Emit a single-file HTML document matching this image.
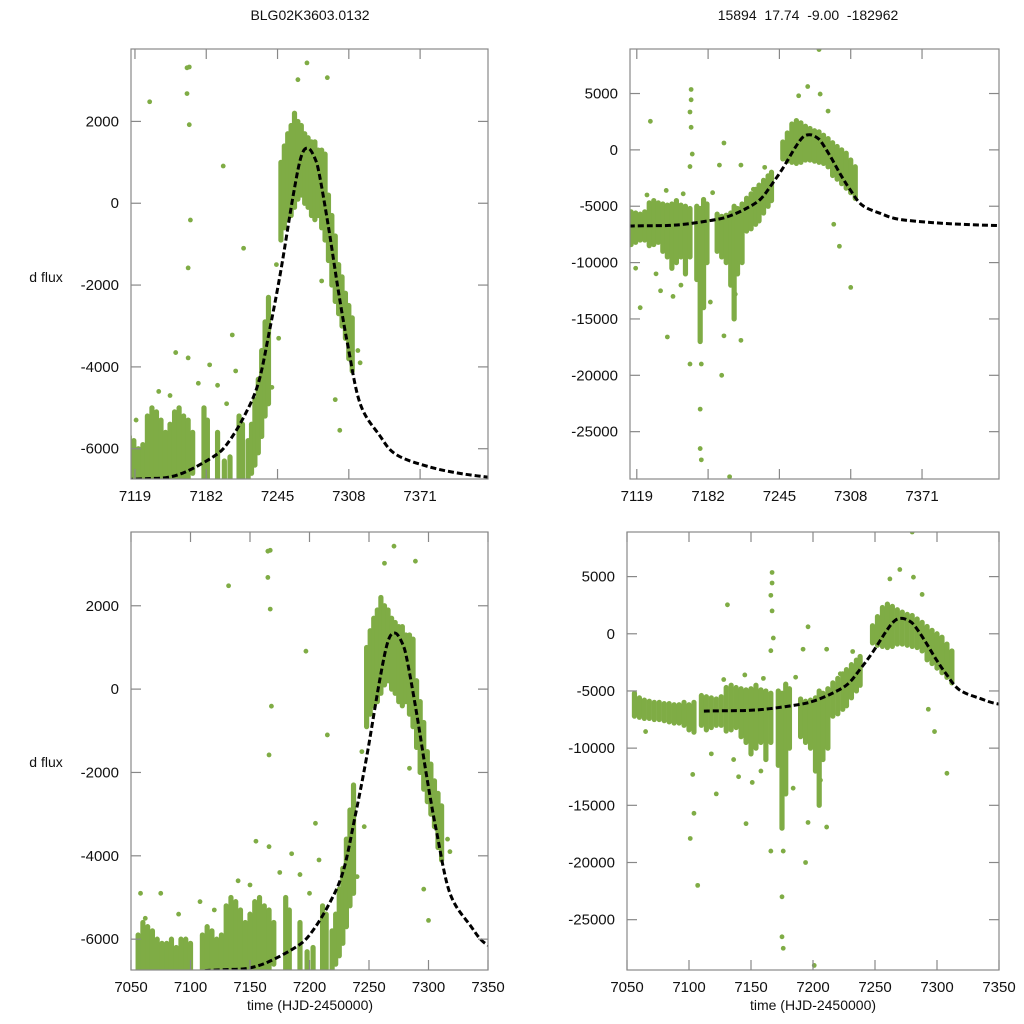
<!DOCTYPE html>
<html><head><meta charset="utf-8"><style>
html,body{margin:0;padding:0;background:#fff}
svg{display:block;font-family:"Liberation Sans",sans-serif}
</style></head><body>
<svg id="fig" width="1024" height="1024" viewBox="0 0 1024 1024">
<text x="310" y="20" font-size="14" text-anchor="middle" fill="#111">BLG02K3603.0132</text>
<text x="808" y="20" font-size="14" text-anchor="middle" fill="#111" xml:space="preserve">15894  17.74  -9.00  -182962</text>
<text x="46" y="282" font-size="14" text-anchor="middle" fill="#111">d flux</text>
<text x="46" y="767" font-size="14" text-anchor="middle" fill="#111">d flux</text>
<text x="310" y="1010" font-size="14" text-anchor="middle" fill="#111">time (HJD-2450000)</text>
<text x="813" y="1010" font-size="14" text-anchor="middle" fill="#111">time (HJD-2450000)</text>
</svg>
<script>
// model curve
const modelT=[7112,7115,7130,7148,7165,7188,7200,7215,7228,7238,7248,7259,7266,7272,7278,7282,7290,7299,7307,7318,7335,7350,7380,7410,7440];
const modelF=[-6760,-6750,-6730,-6700,-6550,-6200,-5900,-5234,-4400,-3100,-1633,216,1150,1345,1100,696,-576,-2185,-3457,-4898,-5666,-6146,-6450,-6620,-6720];
// left dataset dense columns
const leftColT=[7056,7060,7064,7068,7072,7076,7080,7084,7088,7092,7096,7100,7110,7114,7118,7122,7126,7130,7134,7138,7142,7146,7150,7154,7158,7162,7166,7170,7180,7183,7192,7198,7203,7211,7214,7219,7222,7225,7228,7231,7234,7237,7248,7251,7254,7257,7260,7263,7266,7269,7272,7275,7278,7281,7284,7287,7290,7293,7296,7299,7302,7305,7308,7311];
const leftColLo=[-6740,-6740,-6740,-6740,-6740,-6740,-6740,-6740,-6740,-6740,-6740,-6740,-6740,-6740,-6740,-6740,-6740,-6740,-6740,-6700,-6740,-6740,-6740,-6740,-6740,-6740,-6740,-6600,-6740,-6740,-6740,-6740,-6740,-6740,-6740,-6740,-6600,-6400,-6100,-5700,-5200,-4900,-900,-600,-400,-300,-100,100,200,0,-100,-300,-400,-300,-600,-900,-1400,-2000,-2400,-2700,-3000,-3300,-3800,-4100];
const leftColHi=[-5900,-5600,-5700,-5800,-6000,-6100,-6100,-6000,-6200,-6000,-6000,-6100,-5900,-5700,-5800,-6000,-5900,-5200,-5000,-5100,-5300,-5600,-5400,-5100,-5000,-5200,-5300,-5600,-5000,-5300,-5600,-6300,-6200,-5200,-5400,-5800,-5400,-4800,-4300,-3600,-2900,-2300,1000,1400,1700,1900,2200,2000,1900,1700,1600,1500,1500,1300,1300,1200,200,-300,-800,-1500,-1800,-2200,-2500,-2800];
const leftOutT=[7132,7165,7167,7165,7167,7168,7166,7197,7271,7263,7289,7300,7155,7166,7185,7192,7205,7058,7075,7215,7244,7284,7296,7246,7240,7090,7120,7140,7175,7208,7062,7108,7150,7200,7316,7318];
const leftOutF=[2480,3310,3330,2680,1920,-410,-1580,910,3430,3020,3070,-5550,-3650,-3780,-3950,-4450,-3220,-4900,-4900,-1100,-1500,-1900,-4800,-3300,-4500,-5400,-5300,-4600,-4400,-4100,-5500,-5100,-4700,-4900,-3600,-3900];
// right dataset dense columns
const rightColT=[7056,7060,7064,7068,7072,7076,7080,7084,7088,7092,7096,7100,7104,7110,7114,7118,7122,7126,7130,7134,7138,7142,7146,7150,7154,7158,7162,7166,7172,7175,7178,7181,7190,7194,7198,7202,7205,7208,7212,7216,7220,7224,7227,7231,7235,7238,7248,7252,7256,7260,7264,7268,7272,7276,7280,7284,7288,7292,7296,7300,7304,7308,7312];
const rightColLo=[-7200,-7300,-7400,-7400,-7500,-7500,-7600,-7700,-7800,-7800,-8000,-8400,-8600,-8000,-8400,-8200,-8000,-8000,-8500,-8400,-8200,-9000,-9500,-10500,-10000,-9500,-11000,-9500,-11500,-17000,-14000,-10000,-9000,-9500,-10000,-12000,-15000,-11000,-10000,-7200,-7000,-6600,-6300,-5600,-5000,-4500,-800,-1000,-1100,-1200,-1100,-900,-900,-1000,-1100,-1200,-1500,-2270,-2600,-3000,-3400,-3800,-4290];
const rightColHi=[-5200,-5600,-5800,-5900,-6000,-6000,-6100,-6100,-6200,-6200,-6000,-6200,-6000,-5400,-5500,-5600,-5700,-5500,-4700,-4500,-4700,-4800,-4900,-4800,-4500,-4900,-5000,-5200,-5000,-5200,-4400,-4800,-5700,-5900,-5800,-5600,-5000,-5200,-4800,-4290,-3900,-3500,-3130,-2700,-2300,-1980,700,1500,2300,2600,2400,2100,1900,1700,1600,1300,1000,640,300,0,-300,-900,-1500];
const rightOutT=[7131,7167,7167,7166,7167,7168,7166,7196,7192,7211,7232,7270,7281,7262,7288,7308,7298,7293,7101,7104,7103,7065,7166,7176,7146,7211,7196,7175,7175,7176,7107,7194,7201,7280,7151,7122,7140,7118,7136,7158,7184,7206,7222,7186,7160,7128,7145];
const rightOutF=[2535,5360,4440,3360,2000,-370,-1480,610,-1350,-1350,-1550,5620,4950,4800,3440,-12200,-8550,-6600,-17900,-15700,-12300,-8550,-19000,-19000,-16600,-16900,-16500,-23000,-26500,-27500,-22000,-20000,-29000,8900,-13000,-14000,-12500,-10500,-11000,-12000,-13500,-12800,-3500,-3800,-3900,-4000,-3600];

const NS='http://www.w3.org/2000/svg';
const svg=document.getElementById('fig');
const GREEN='#7fac45';
function mk(tag,attrs,parent){const e=document.createElementNS(NS,tag);for(const k in attrs)e.setAttribute(k,attrs[k]);(parent||svg).appendChild(e);return e;}

const panels=[
 {id:'top-left',x0:131,x1:488,y0:49,y1:479,t0:7115.5,t1:7431,f0:-6740,f1:3770,xt:[7119,7182,7245,7308,7371],yt:[-6000,-4000,-2000,0,2000],side:'left'},
 {id:'top-right',x0:630,x1:999,y0:49,y1:479,t0:7113,t1:7439,f0:-29200,f1:8950,xt:[7119,7182,7245,7308,7371],yt:[-25000,-20000,-15000,-10000,-5000,0,5000],side:'right'},
 {id:'bottom-left',x0:131,x1:488,y0:532,y1:970,t0:7050,t1:7350,f0:-6740,f1:3770,xt:[7050,7100,7150,7200,7250,7300,7350],yt:[-6000,-4000,-2000,0,2000],side:'left'},
 {id:'bottom-right',x0:627,x1:999,y0:532,y1:970,t0:7050,t1:7350,f0:-29400,f1:8900,xt:[7050,7100,7150,7200,7250,7300,7350],yt:[-25000,-20000,-15000,-10000,-5000,0,5000],side:'right'}
];

panels.forEach((p,i)=>{
  const X=t=>p.x0+(t-p.t0)/(p.t1-p.t0)*(p.x1-p.x0);
  const Y=f=>p.y1-(f-p.f0)/(p.f1-p.f0)*(p.y1-p.y0);
  const g=mk('g',{});
  
  
  const cid='clip'+i;
  const cp=mk('clipPath',{id:cid},g);
  mk('rect',{x:p.x0,y:p.y0,width:p.x1-p.x0,height:p.y1-p.y0},cp);
  const data=mk('g',{'clip-path':'url(#'+cid+')'},g);
  
  
  const cT=p.side==='left'?leftColT:rightColT, cLo=p.side==='left'?leftColLo:rightColLo, cHi=p.side==='left'?leftColHi:rightColHi;
  const oT=p.side==='left'?leftOutT:rightOutT, oF=p.side==='left'?leftOutF:rightOutF;
  for(let k=0;k<cT.length;k++){
    const l=mk('line',{x1:X(cT[k]),x2:X(cT[k]),y1:Y(cLo[k]),y2:Y(cHi[k]),stroke:GREEN,'stroke-width':5.2,'stroke-linecap':'round'},data);
    
    
  }
  for(let k=0;k<oT.length;k++){
    const c=mk('circle',{cx:X(oT[k]),cy:Y(oF[k]),r:2.4,fill:GREEN},data);
    
    
  }
  let pts=modelT.map((t,k)=>[X(t),Y(modelF[k])]);
  let d='M'+pts[0][0]+','+pts[0][1];
  for(let k=0;k<pts.length-1;k++){
    const p0=pts[Math.max(0,k-1)],p1=pts[k],p2=pts[k+1],p3=pts[Math.min(pts.length-1,k+2)];
    const c1=[p1[0]+(p2[0]-p0[0])/6,p1[1]+(p2[1]-p0[1])/6];
    const c2=[p2[0]-(p3[0]-p1[0])/6,p2[1]-(p3[1]-p1[1])/6];
    d+=' C'+c1+' '+c2+' '+p2;
  }
  const m=mk('path',{d:d,fill:'none',stroke:'#000','stroke-width':3,'stroke-dasharray':'6,3'},data);
  
  
  const fr=mk('rect',{x:p.x0,y:p.y0,width:p.x1-p.x0,height:p.y1-p.y0,fill:'none',stroke:'#888','stroke-width':1.2},g);
  
  
  p.xt.forEach(t=>{
    const x=X(t);
    mk('line',{x1:x,x2:x,y1:p.y1,y2:p.y1-10,stroke:'#888','stroke-width':1.2},g);
    mk('line',{x1:x,x2:x,y1:p.y0,y2:p.y0+10,stroke:'#888','stroke-width':1.2},g);
    const tx=mk('text',{x:x,y:p.y1+22,'font-size':15,'text-anchor':'middle',fill:'#111'},g);
    tx.textContent=t;
    
    
  });
  p.yt.forEach(f=>{
    const y=Y(f);
    mk('line',{x1:p.x0,x2:p.x0+10,y1:y,y2:y,stroke:'#888','stroke-width':1.2},g);
    mk('line',{x1:p.x1,x2:p.x1-10,y1:y,y2:y,stroke:'#888','stroke-width':1.2},g);
    const ty=mk('text',{x:p.x0-12,y:y+5,'font-size':15,'text-anchor':'end',fill:'#111'},g);
    ty.textContent=f;
    
    
  });
});
</script>
</body></html>
